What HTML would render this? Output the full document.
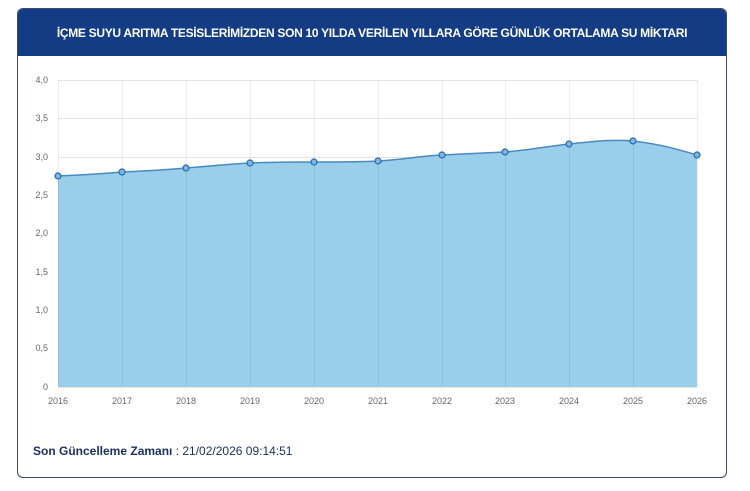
<!DOCTYPE html>
<html><head><meta charset="utf-8"><style>
body{margin:0;background:#fff;width:750px;height:491px;overflow:hidden;font-family:"Liberation Sans",sans-serif}
.card{position:absolute;left:17px;top:8px;width:708px;height:468px;border:1px solid #3a4a6a;border-radius:6px;overflow:hidden;background:#fff}
.hd{height:47px;background:#143c84;color:#fff;font-weight:bold;font-size:12px;text-align:center;line-height:48px;letter-spacing:-0.3px}
.ft{position:absolute;left:33px;top:444px;font-size:12px;color:#1b2f5e}
</style></head><body>
<div class="card"><div class="hd">İÇME SUYU ARITMA TESİSLERİMİZDEN SON 10 YILDA VERİLEN YILLARA GÖRE GÜNLÜK ORTALAMA SU MİKTARI</div></div>
<svg style="position:absolute;left:0;top:0" width="750" height="491">
<g stroke="#000" stroke-opacity="0.1" stroke-width="1">
<line x1="58" y1="80.5" x2="697" y2="80.5"/><line x1="58" y1="118.5" x2="697" y2="118.5"/><line x1="58" y1="157.5" x2="697" y2="157.5"/><line x1="58" y1="195.5" x2="697" y2="195.5"/><line x1="58" y1="233.5" x2="697" y2="233.5"/><line x1="58" y1="272.5" x2="697" y2="272.5"/><line x1="58" y1="310.5" x2="697" y2="310.5"/><line x1="58" y1="348.5" x2="697" y2="348.5"/><line x1="58" y1="387.5" x2="697" y2="387.5"/>
</g>
<path d="M58,176 C80,175 100,174 122,172 C145,171 165,170 186,168 C210,166 230,164 250,163 C275,162 295,162 314,162 C340,162 360,162 378,161 C400,160 420,156 442,155 C465,154 485,153 505,152 C530,150 550,146 569,144 C590,142 610,139 633,141 C660,144 680,150 697,155 L697,387 L58,387 Z" fill="#9acfec"/>
<g stroke="#000" stroke-opacity="0.07" stroke-width="1">
<line x1="58.5" y1="80" x2="58.5" y2="387"/><line x1="122.5" y1="80" x2="122.5" y2="387"/><line x1="186.5" y1="80" x2="186.5" y2="387"/><line x1="250.5" y1="80" x2="250.5" y2="387"/><line x1="314.5" y1="80" x2="314.5" y2="387"/><line x1="378.5" y1="80" x2="378.5" y2="387"/><line x1="442.5" y1="80" x2="442.5" y2="387"/><line x1="505.5" y1="80" x2="505.5" y2="387"/><line x1="569.5" y1="80" x2="569.5" y2="387"/><line x1="633.5" y1="80" x2="633.5" y2="387"/><line x1="697.5" y1="80" x2="697.5" y2="387"/>
</g>
<path d="M58,176 C80,175 100,174 122,172 C145,171 165,170 186,168 C210,166 230,164 250,163 C275,162 295,162 314,162 C340,162 360,162 378,161 C400,160 420,156 442,155 C465,154 485,153 505,152 C530,150 550,146 569,144 C590,142 610,139 633,141 C660,144 680,150 697,155" fill="none" stroke="#4a88c0" stroke-width="1.5"/>
<g fill="#7bb6e2" stroke="#2a6aaa" stroke-width="1.2">
<circle cx="58" cy="176" r="3"/><circle cx="122" cy="172" r="3"/><circle cx="186" cy="168" r="3"/><circle cx="250" cy="163" r="3"/><circle cx="314" cy="162" r="3"/><circle cx="378" cy="161" r="3"/><circle cx="442" cy="155" r="3"/><circle cx="505" cy="152" r="3"/><circle cx="569" cy="144" r="3"/><circle cx="633" cy="141" r="3"/><circle cx="697" cy="155" r="3"/>
</g>
<g font-size="9" fill="#666" text-anchor="end">
<text x="48" y="83">4,0</text><text x="48" y="121">3,5</text><text x="48" y="160">3,0</text><text x="48" y="198">2,5</text><text x="48" y="236">2,0</text><text x="48" y="275">1,5</text><text x="48" y="313">1,0</text><text x="48" y="351">0,5</text><text x="48" y="390">0</text>
</g>
<g font-size="9" fill="#666" text-anchor="middle">
<text x="58" y="404">2016</text><text x="122" y="404">2017</text><text x="186" y="404">2018</text><text x="250" y="404">2019</text><text x="314" y="404">2020</text><text x="378" y="404">2021</text><text x="442" y="404">2022</text><text x="505" y="404">2023</text><text x="569" y="404">2024</text><text x="633" y="404">2025</text><text x="697" y="404">2026</text>
</g>
</svg>
<div class="ft"><b>Son Güncelleme Zamanı</b> : 21/02/2026 09:14:51</div>
</body></html>
